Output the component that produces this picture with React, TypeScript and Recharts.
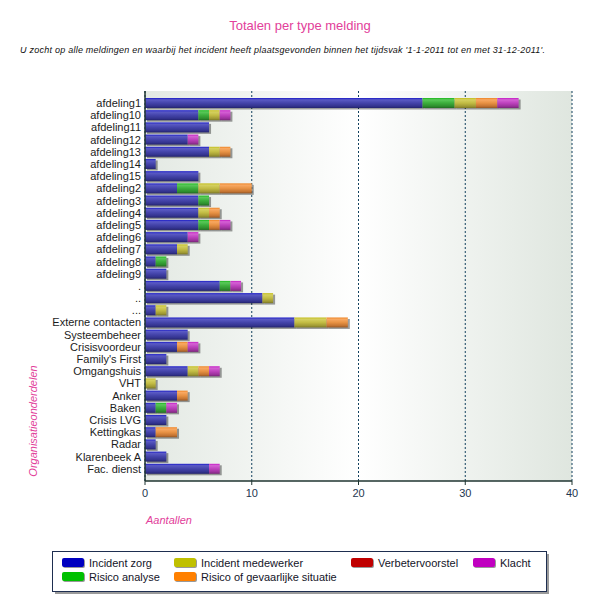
import React from 'react';
import { BarChart, Bar, XAxis, YAxis, CartesianGrid } from 'recharts';

const categories = ['afdeling1','afdeling10','afdeling11','afdeling12','afdeling13','afdeling14','afdeling15','afdeling2','afdeling3','afdeling4','afdeling5','afdeling6','afdeling7','afdeling8','afdeling9','.','..','...','Externe contacten','Systeembeheer','Crisisvoordeur',"Family's First",'Omgangshuis','VHT','Anker','Baken','Crisis LVG','Kettingkas','Radar','Klarenbeek A','Fac. dienst'];

const incidentZorg =       [26,5,6,4,6,1,5,3,5,5,5,4,3,1,2,7,11,1,14,4,3,2,4,0,3,1,2,1,1,2,6];
const risicoAnalyse =      [3,1,0,0,0,0,0,2,1,0,1,0,0,1,0,1,0,0,0,0,0,0,0,0,0,1,0,0,0,0,0];
const incidentMedewerker = [2,1,0,0,1,0,0,2,0,1,0,0,1,0,0,0,1,1,3,0,0,0,1,1,0,0,0,0,0,0,0];
const verbetervoorstel =   [0,0,0,0,0,0,0,0,0,0,0,0,0,0,0,0,0,0,0,0,0,0,0,0,0,0,0,0,0,0,0];
const gevaarlijk =         [2,0,0,0,1,0,0,3,0,1,1,0,0,0,0,0,0,0,2,0,1,0,1,0,1,0,0,2,0,0,0];
const klacht =             [2,1,0,1,0,0,0,0,0,0,1,1,0,0,0,1,0,0,0,0,1,0,1,0,0,1,0,0,0,0,1];

const xTicks = [0, 10, 20, 30, 40];

const series = [
  { key: 'zorg', name: 'Incident zorg', values: incidentZorg, color: '#0000c0', stops: ['#1a1ac8', '#5a5ac4', '#4444aa', '#33338e', '#22226c'] },
  { key: 'analyse', name: 'Risico analyse', values: risicoAnalyse, color: '#00c000', stops: ['#1ab81a', '#5ac85a', '#3cae3c', '#2e8e2e', '#206a20'] },
  { key: 'medewerker', name: 'Incident medewerker', values: incidentMedewerker, color: '#c0c000', stops: ['#c4be1c', '#d4d060', '#c2bc44', '#a09a34', '#7c7826'] },
  { key: 'verbeter', name: 'Verbetervoorstel', values: verbetervoorstel, color: '#c00000', stops: ['#c01a1a', '#cc5a5a', '#b04040', '#903030', '#6c2020'] },
  { key: 'gevaarlijk', name: 'Risico of gevaarlijke situatie', values: gevaarlijk, color: '#ff8000', stops: ['#ee8424', '#f8a862', '#e89244', '#c47432', '#945624'] },
  { key: 'klacht', name: 'Klacht', values: klacht, color: '#c000c0', stops: ['#c41ac4', '#d462d4', '#be42be', '#9c329c', '#782478'] },
];

const data = categories.map((name, i) => {
  const row: any = { name };
  series.forEach((s) => { row[s.key] = s.values[i]; });
  return row;
});

const legendItems = [
  { s: series[0], x: 62, y: 558 },
  { s: series[2], x: 174, y: 558 },
  { s: series[3], x: 351, y: 558 },
  { s: series[5], x: 473, y: 558 },
  { s: series[1], x: 62, y: 572 },
  { s: series[4], x: 174, y: 572 },
];

const FONT = '"Liberation Sans", Arial, sans-serif';
const PINK = '#e2409a';

const ShadowBar = (props: any) => {
  const { x, y, width, height, fill } = props;
  if (!width || width <= 0 || !height) return <g />;
  return (
    <g>
      <rect x={x + 2} y={y + 1.5} width={width} height={height} fill="#000" fillOpacity={0.38} />
      <rect x={x} y={y} width={width} height={height} fill={fill} />
    </g>
  );
};

export default function App() {
  return (
    <div style={{ position: 'absolute', left: 0, top: 0, width: 600, height: 610, background: '#fff', fontFamily: FONT }}>
      <svg width={600} height={610} style={{ position: 'absolute', left: 0, top: 0 }}>
        <defs>
          <linearGradient id="bgGrad" x1="0" y1="0" x2="1" y2="0">
            <stop offset="0" stopColor="#e3e9e3" />
            <stop offset="0.5" stopColor="#ffffff" />
            <stop offset="1" stopColor="#dfe6df" />
          </linearGradient>
          {series.map((s) => (
            <linearGradient key={s.key} id={'g-' + s.key} x1="0" y1="0" x2="0" y2="1">
              <stop offset="0" stopColor={s.stops[0]} />
              <stop offset="0.18" stopColor={s.stops[1]} />
              <stop offset="0.5" stopColor={s.stops[2]} />
              <stop offset="0.82" stopColor={s.stops[3]} />
              <stop offset="1" stopColor={s.stops[4]} />
            </linearGradient>
          ))}
        </defs>
        <text x={300} y={30} textAnchor="middle" fontSize={13} fill={PINK} fontFamily={FONT}>Totalen per type melding</text>
        <text x={20} y={53} fontSize={9} fontStyle="italic" fill="#111" fontFamily={FONT} textLength={525} lengthAdjust="spacing">
          U zocht op alle meldingen en waarbij het incident heeft plaatsgevonden binnen het tijdsvak '1-1-2011 tot en met 31-12-2011'.
        </text>
        <text x={146} y={524} fontSize={11} fontStyle="italic" fill={PINK} fontFamily={FONT}>Aantallen</text>
        <text x={37} y={421} fontSize={11} fontStyle="italic" fill={PINK} fontFamily={FONT} textAnchor="middle" transform="rotate(-90 37 421)">Organisatieonderdelen</text>
        <rect x={55} y={554} width={494} height={40} fill="#9a9a9a" />
        <rect x={52.5} y={551.5} width={494} height={40} fill="#fff" stroke="#1e2e50" strokeWidth={1} />
        {legendItems.map(({ s, x, y }) => (
          <g key={s.key}>
            <rect x={x + 1} y={y + 1} width={22} height={9} rx={2} fill="#999" />
            <rect x={x} y={y} width={22} height={9} rx={2} fill={s.color} />
            <text x={x + 27} y={y + 9} fontSize={11} fill="#141428" fontFamily={FONT}>{s.name}</text>
          </g>
        ))}
      </svg>
      <div style={{ position: 'absolute', left: 0, top: 0 }}>
        <BarChart
          width={600}
          height={610}
          data={data}
          layout="vertical"
          margin={{ top: 91, right: 28, bottom: 99, left: 10 }}
          barSize={10}
        >
          <CartesianGrid horizontal={false} vertical={true} stroke="#12405e" strokeDasharray="2 2" fill="url(#bgGrad)" fillOpacity={1} />
          <XAxis
            type="number"
            domain={[0, 40]}
            ticks={xTicks}
            interval={0}
            tick={{ fontSize: 11, fill: '#1e3650', fontFamily: FONT }}
            tickSize={4}
            tickMargin={4}
            axisLine={{ stroke: '#1f3530', strokeWidth: 1.5 }}
            tickLine={{ stroke: '#1f3530' }}
            height={30}
          />
          <YAxis
            type="category"
            dataKey="name"
            width={135}
            interval={0}
            tick={{ fontSize: 11, fill: '#1c1c1c', fontFamily: FONT }}
            tickLine={false}
            tickSize={0}
            tickMargin={4}
            axisLine={{ stroke: '#1f3530', strokeWidth: 1.5 }}
            padding={{ top: 6, bottom: 6 }}
          />
          {series.map((s) => (
            <Bar
              key={s.key}
              dataKey={s.key}
              name={s.name}
              stackId="a"
              fill={'url(#g-' + s.key + ')'}
              shape={ShadowBar}
              isAnimationActive={false}
            />
          ))}
        </BarChart>
      </div>
    </div>
  );
}
